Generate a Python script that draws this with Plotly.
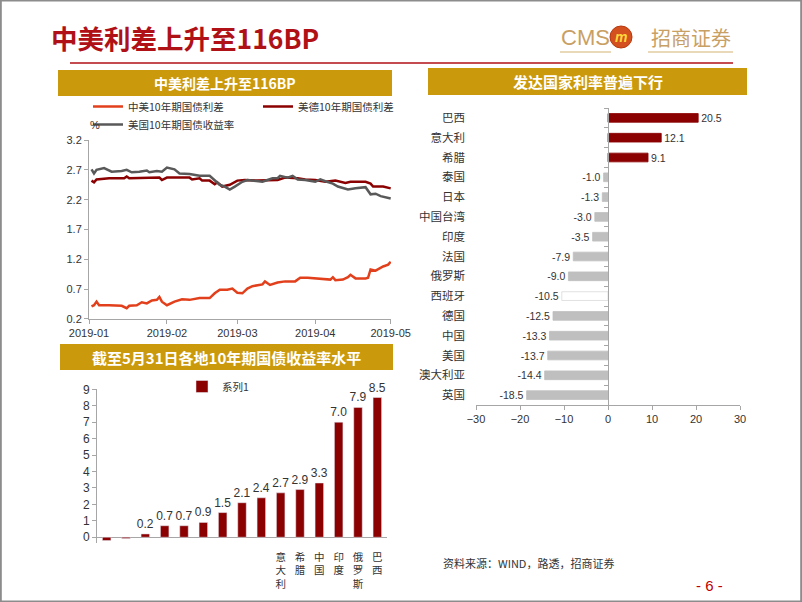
import plotly.graph_objects as go

W, H = 802, 602


def px(x):
    return x / W


def py(y):
    return 1 - y / H


# ---------------- data: top-left line chart ----------------
cnus_dates = ["2019-01-02", "2019-01-03", "2019-01-04", "2019-01-05", "2019-01-09", "2019-01-14",
              "2019-01-16", "2019-01-17", "2019-01-20", "2019-01-22", "2019-01-24", "2019-01-26",
              "2019-01-28", "2019-01-29", "2019-01-30", "2019-02-01", "2019-02-04", "2019-02-07",
              "2019-02-10", "2019-02-14", "2019-02-18", "2019-02-20", "2019-02-22", "2019-02-25",
              "2019-02-27", "2019-03-01", "2019-03-03", "2019-03-05", "2019-03-07", "2019-03-09",
              "2019-03-11", "2019-03-12", "2019-03-14", "2019-03-17", "2019-03-20", "2019-03-24",
              "2019-03-26", "2019-03-29", "2019-04-02", "2019-04-07", "2019-04-08", "2019-04-09",
              "2019-04-12", "2019-04-14", "2019-04-15", "2019-04-17", "2019-04-21", "2019-04-22",
              "2019-04-23", "2019-04-25", "2019-04-28", "2019-04-30", "2019-05-01"]
cnus_vals = [0.41, 0.43, 0.49, 0.43, 0.43, 0.42, 0.38, 0.42, 0.43, 0.48, 0.46, 0.51,
             0.52, 0.57, 0.49, 0.43, 0.49, 0.53, 0.52, 0.55, 0.55, 0.63, 0.69, 0.69,
             0.71, 0.64, 0.63, 0.71, 0.75, 0.77, 0.78, 0.83, 0.77, 0.81, 0.83, 0.83,
             0.89, 0.89, 0.88, 0.86, 0.90, 0.85, 0.86, 0.90, 0.94, 0.88, 0.88, 0.89,
             1.03, 1.01, 1.08, 1.11, 1.16]

usde_dates = ["2019-01-02", "2019-01-03", "2019-01-04", "2019-01-09", "2019-01-15", "2019-01-16",
              "2019-01-17", "2019-01-23", "2019-01-29", "2019-01-30", "2019-02-01", "2019-02-06",
              "2019-02-10", "2019-02-11", "2019-02-14", "2019-02-15", "2019-02-18", "2019-02-20",
              "2019-02-21", "2019-02-23", "2019-02-26", "2019-03-01", "2019-03-04", "2019-03-09",
              "2019-03-13", "2019-03-17", "2019-03-20", "2019-03-23", "2019-03-25", "2019-03-28",
              "2019-04-01", "2019-04-05", "2019-04-09", "2019-04-13", "2019-04-15", "2019-04-21",
              "2019-04-23", "2019-04-24", "2019-04-28", "2019-05-01"]
usde_vals = [2.52, 2.49, 2.54, 2.56, 2.56, 2.59, 2.56, 2.56, 2.57, 2.53, 2.57, 2.57,
             2.57, 2.54, 2.56, 2.52, 2.52, 2.46, 2.49, 2.42, 2.45, 2.52, 2.53, 2.52,
             2.52, 2.53, 2.57, 2.57, 2.56, 2.54, 2.53, 2.50, 2.52, 2.48, 2.50, 2.50,
             2.47, 2.42, 2.42, 2.39]

us_dates = ["2019-01-02", "2019-01-03", "2019-01-04", "2019-01-07", "2019-01-10", "2019-01-14",
            "2019-01-16", "2019-01-18", "2019-01-21", "2019-01-24", "2019-01-25", "2019-01-28",
            "2019-01-30", "2019-01-31", "2019-02-01", "2019-02-04", "2019-02-06", "2019-02-10",
            "2019-02-14", "2019-02-18", "2019-02-20", "2019-02-22", "2019-02-24", "2019-02-26",
            "2019-02-28", "2019-03-03", "2019-03-05", "2019-03-08", "2019-03-11", "2019-03-13",
            "2019-03-15", "2019-03-17", "2019-03-18", "2019-03-21", "2019-03-23", "2019-03-25",
            "2019-03-28", "2019-04-01", "2019-04-03", "2019-04-05", "2019-04-08", "2019-04-10",
            "2019-04-14", "2019-04-17", "2019-04-21", "2019-04-23", "2019-04-25", "2019-04-27",
            "2019-05-01"]
us_vals = [2.71, 2.64, 2.70, 2.73, 2.67, 2.68, 2.70, 2.66, 2.67, 2.69, 2.66, 2.68,
           2.67, 2.70, 2.74, 2.71, 2.64, 2.63, 2.60, 2.60, 2.53, 2.45, 2.42, 2.37,
           2.42, 2.50, 2.53, 2.52, 2.50, 2.53, 2.56, 2.56, 2.60, 2.57, 2.60, 2.54,
           2.53, 2.50, 2.54, 2.51, 2.47, 2.42, 2.37, 2.39, 2.41, 2.29, 2.30, 2.26,
           2.22]

month_ticks = ["2019-01-01", "2019-02-01", "2019-03-01", "2019-04-01", "2019-05-01"]
month_labels = ["2019-01", "2019-02", "2019-03", "2019-04", "2019-05"]

# ---------------- data: bottom-left bar chart ----------------
bar_countries = ["德国", "日本", "法国", "中国台湾", "西班牙", "英国", "澳大利亚", "美国", "泰国",
                 "意大利", "希腊", "中国", "印度", "俄罗斯", "巴西"]
bar_values = [-0.2, -0.08, 0.2, 0.7, 0.7, 0.9, 1.5, 2.1, 2.4, 2.7, 2.9, 3.3, 7.0, 7.9, 8.5]
bar_ticklabels = ["", "", "", "", "", "", "", "", "",
                  "意大利", "希腊", "中国", "印度", "俄罗斯", "巴西"]

# ---------------- data: right horizontal bar chart ----------------
rate_countries = ["巴西", "意大利", "希腊", "泰国", "日本", "中国台湾", "印度", "法国", "俄罗斯",
                  "西班牙", "德国", "中国", "美国", "澳大利亚", "英国"]
rate_changes = [20.5, 12.1, 9.1, -1.0, -1.3, -3.0, -3.5, -7.9, -9.0, -10.5, -12.5, -13.3,
                -13.7, -14.4, -18.5]

# ---------------- styles ----------------
DARK_RED = "#8B0000"
GOLD = "#CB9A0C"
TITLE_RED = "#B01116"
AXIS_GRAY = "#A6A6A6"
TXT = "#333333"
CJK = "Noto Sans CJK SC"
LAT = "Arial, Liberation Sans"

fig = go.Figure()

# line chart
fig.add_trace(go.Scatter(x=cnus_dates, y=cnus_vals, name="中美10年期国债利差", mode="lines",
                         line=dict(color="#E2401C", width=2.5), xaxis="x", yaxis="y",
                         legend="legend"))
fig.add_trace(go.Scatter(x=usde_dates, y=usde_vals, name="美德10年期国债利差", mode="lines",
                         line=dict(color=DARK_RED, width=2.5), xaxis="x", yaxis="y",
                         legend="legend"))
fig.add_trace(go.Scatter(x=us_dates, y=us_vals, name="美国10年期国债收益率", mode="lines",
                         line=dict(color="#595959", width=2.5), xaxis="x", yaxis="y",
                         legend="legend3"))

# bottom-left bars
bar_text = [f"{v:.1f}" if v > 0 else "" for v in bar_values]
vertical_ticks = ["<br>".join(list(t)) for t in bar_ticklabels]
fig.add_trace(go.Bar(x=bar_countries, y=bar_values, name="系列1", marker_color=DARK_RED,
                     text=bar_text, textposition="outside", cliponaxis=False,
                     constraintext="none",
                     textfont=dict(family=LAT, size=12, color=TXT),
                     xaxis="x2", yaxis="y2", legend="legend2"))

# right horizontal bars
rate_colors = []
rate_lines = []
for c, v in zip(rate_countries, rate_changes):
    if c == "西班牙":
        rate_colors.append("#FFFFFF")
        rate_lines.append("#D9D9D9")
    elif v > 0:
        rate_colors.append(DARK_RED)
        rate_lines.append(DARK_RED)
    else:
        rate_colors.append("#BFBFBF")
        rate_lines.append("#BFBFBF")
fig.add_trace(go.Bar(x=rate_changes, y=rate_countries, orientation="h",
                     marker=dict(color=rate_colors, line=dict(color=rate_lines, width=0.8)),
                     text=[f"{v:.1f}" for v in rate_changes], textposition="outside",
                     cliponaxis=False, constraintext="none",
                     textfont=dict(family=LAT, size=10.5, color=TXT),
                     xaxis="x3", yaxis="y3", showlegend=False))
# invisible helper so the category axis at zero gets drawn
fig.add_trace(go.Scatter(x=[0] * len(rate_countries), y=rate_countries, mode="markers",
                         marker=dict(opacity=0), hoverinfo="skip", showlegend=False,
                         xaxis="x3", yaxis="y4"))

n = len(rate_countries)
zero_pos = px(476) + (px(740) - px(476)) * 0.5

axis_common = dict(showline=True, linecolor=AXIS_GRAY, linewidth=1, ticks="outside",
                   ticklen=4, tickcolor=AXIS_GRAY, showgrid=False, zeroline=False,
                   automargin=False)

fig.update_layout(
    width=W, height=H, autosize=False,
    margin=dict(l=0, r=0, t=0, b=0, pad=0, autoexpand=False),
    paper_bgcolor="white", plot_bgcolor="rgba(0,0,0,0)",
    bargap=0.56, showlegend=True,
    xaxis=dict(domain=[px(89), px(391)], anchor="y", type="date",
               range=["2019-01-01", "2019-05-01 03:00"], tickvals=month_ticks,
               ticktext=month_labels, tickfont=dict(family=LAT, size=11, color=TXT),
               **axis_common),
    yaxis=dict(domain=[py(319), py(140)], anchor="x", range=[0.199, 3.201], tick0=0.2,
               dtick=0.5, tickformat=".1f", tickfont=dict(family=LAT, size=11, color=TXT),
               **axis_common),
    xaxis2=dict(domain=[px(97), px(387)], anchor="y2", type="category",
                tickvals=bar_countries, ticktext=vertical_ticks, tickangle=0,
                showline=False, ticks="", showgrid=False, zeroline=False,
                ticklabelstandoff=6, automargin=False,
                tickfont=dict(family=CJK, size=10.5, color=TXT)),
    yaxis2=dict(domain=[py(543), py(389.3)], anchor="x2", range=[-0.35, 9], dtick=1,
                tickfont=dict(family=LAT, size=12, color=TXT), automargin=False,
                showline=True, linecolor=AXIS_GRAY, ticks="outside", ticklen=4,
                tickcolor=AXIS_GRAY, showgrid=False, zeroline=True,
                zerolinecolor=AXIS_GRAY, zerolinewidth=1),
    xaxis3=dict(domain=[px(476), px(740)], anchor="y3", range=[-30, 30], dtick=10,
                tickfont=dict(family=LAT, size=11, color=TXT), **axis_common),
    yaxis3=dict(domain=[py(405), py(108)], anchor="x3", type="category",
                categoryorder="array", categoryarray=rate_countries, range=[n - 0.5, -0.5],
                showline=False, ticks="", showgrid=False, zeroline=False, automargin=False,
                ticklabelstandoff=10, tickfont=dict(family=CJK, size=11.5, color=TXT)),
    yaxis4=dict(overlaying="y3", anchor="free", position=zero_pos, side="left",
                type="category", categoryorder="array", categoryarray=rate_countries,
                range=[n - 0.5, -0.5], showticklabels=False, showline=True,
                linecolor=AXIS_GRAY, ticks="outside", ticklen=4, tickcolor=AXIS_GRAY,
                tickson="boundaries", showgrid=False, zeroline=False, automargin=False),
    legend=dict(x=px(88), y=py(92), xanchor="left", yanchor="top", orientation="h",
                font=dict(family=CJK, size=10.5, color=TXT), bgcolor="rgba(0,0,0,0)",
                entrywidth=125, itemwidth=30),
    legend3=dict(x=px(88), y=py(110), xanchor="left", yanchor="top", orientation="h",
                 font=dict(family=CJK, size=10.5, color=TXT), bgcolor="rgba(0,0,0,0)",
                 itemwidth=30),
    legend2=dict(x=px(182), y=py(372), xanchor="left", yanchor="top", orientation="h",
                 font=dict(family=CJK, size=10.5, color=TXT), bgcolor="rgba(0,0,0,0)",
                 itemwidth=30),
)

shapes = [
    # slide border
    dict(type="rect", xref="paper", yref="paper", x0=0.001, y0=0.001, x1=0.999, y1=0.999,
         line=dict(color="#8C8C8C", width=2)),
    # red rule under title
    dict(type="line", xref="paper", yref="paper", x0=px(70), x1=px(733), y0=py(63), y1=py(63),
         line=dict(color=TITLE_RED, width=1.5)),
    # gold header bars
    dict(type="rect", xref="paper", yref="paper", x0=px(58), x1=px(392), y0=py(96), y1=py(70),
         fillcolor=GOLD, line=dict(width=0)),
    dict(type="rect", xref="paper", yref="paper", x0=px(428), x1=px(747), y0=py(95), y1=py(68),
         fillcolor=GOLD, line=dict(width=0)),
    dict(type="rect", xref="paper", yref="paper", x0=px(60), x1=px(393), y0=py(370), y1=py(344),
         fillcolor=GOLD, line=dict(width=0)),
    # logo underlines
    dict(type="line", xref="paper", yref="paper", x0=px(560), x1=px(611), y0=py(52), y1=py(52),
         line=dict(color="#E9D9B8", width=2)),
    dict(type="line", xref="paper", yref="paper", x0=px(648), x1=px(733), y0=py(52), y1=py(52),
         line=dict(color="#E9D9B8", width=2)),
    # logo emblem
    dict(type="circle", xref="paper", yref="paper", x0=px(610), x1=px(632), y0=py(48), y1=py(26),
         fillcolor="#D4501E", line=dict(color="#B8390F", width=1)),
]

annotations = [
    dict(text="<b>中美利差上升至116BP</b>", x=px(49), y=py(37), xanchor="left", yanchor="middle",
         font=dict(family=CJK, size=26.5, color=TITLE_RED)),
    dict(text="CMS", x=px(585), y=py(38), xanchor="center", yanchor="middle",
         font=dict(family=LAT, size=22, color="#C9A064")),
    dict(text="<b><i>m</i></b>", x=px(621), y=py(37), xanchor="center", yanchor="middle",
         font=dict(family=LAT, size=14, color="#FFD83A")),
    dict(text="招商证券", x=px(691), y=py(38), xanchor="center", yanchor="middle",
         font=dict(family=CJK, size=20, color="#C9A064")),
    dict(text="<b>中美利差上升至116BP</b>", x=px(225), y=py(83), xanchor="center",
         yanchor="middle", font=dict(family=CJK, size=14, color="white")),
    dict(text="<b>发达国家利率普遍下行</b>", x=px(588), y=py(81.5), xanchor="center",
         yanchor="middle", font=dict(family=CJK, size=15, color="white")),
    dict(text="<b>截至5月31日各地10年期国债收益率水平</b>", x=px(226), y=py(357), xanchor="center",
         yanchor="middle", font=dict(family=CJK, size=15, color="white")),
    dict(text="%", x=px(88), y=py(125), xanchor="left", yanchor="middle",
         font=dict(family=LAT, size=11, color=TXT)),
    dict(text="资料来源：WIND，路透，招商证券", x=px(441), y=py(563), xanchor="left",
         yanchor="middle", font=dict(family=CJK, size=11, color=TXT)),
    dict(text="- 6 -", x=px(709), y=py(585), xanchor="center", yanchor="middle",
         font=dict(family=LAT, size=15, color="#C00000")),
]
for a in annotations:
    a.update(xref="paper", yref="paper", showarrow=False)

fig.update_layout(shapes=shapes, annotations=annotations)

fig.write_html("out.html", config={"displayModeBar": False},
               post_script="document.body.style.margin='0';"
                           "document.body.style.overflow='hidden';")
